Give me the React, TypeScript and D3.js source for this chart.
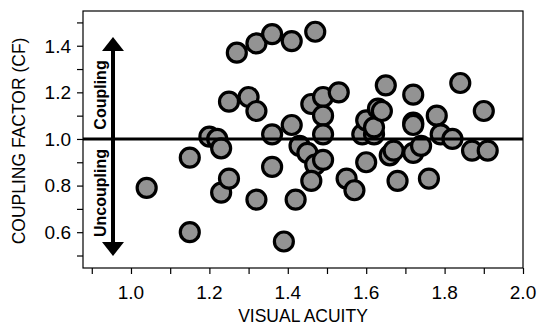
import * as d3 from "d3";
import { useEffect, useRef } from "react";

// visual acuity (x) and coupling factor (y) for each subject
const acuity = [
  1.04, 1.15, 1.15, 1.2, 1.22, 1.23, 1.23, 1.25, 1.25, 1.27, 1.3, 1.32, 1.32,
  1.32, 1.36, 1.36, 1.36, 1.39, 1.41, 1.41, 1.42, 1.43, 1.45, 1.46, 1.47, 1.47,
  1.46, 1.49, 1.49, 1.49, 1.49, 1.53, 1.55, 1.57, 1.59, 1.6, 1.6, 1.62, 1.62,
  1.63, 1.64, 1.65, 1.66, 1.67, 1.68, 1.72, 1.72, 1.72, 1.72, 1.74, 1.76, 1.78,
  1.79, 1.82, 1.84, 1.87, 1.9, 1.91,
];
const couplingFactor = [
  0.79, 0.92, 0.6, 1.01, 1.0, 0.96, 0.77, 0.83, 1.16, 1.37, 1.18, 1.41, 1.12,
  0.74, 1.45, 1.02, 0.88, 0.56, 1.42, 1.06, 0.74, 0.97, 0.94, 1.15, 1.46, 0.89,
  0.82, 1.18, 1.1, 1.02, 0.91, 1.2, 0.83, 0.78, 1.02, 1.08, 0.9, 1.02, 1.05,
  1.13, 1.12, 1.23, 0.93, 0.95, 0.82, 1.19, 1.07, 1.06, 0.94, 0.97, 0.83, 1.1,
  1.02, 1.0, 1.24, 0.95, 1.12, 0.95,
];

const xTicks = [0.9, 1.0, 1.1, 1.2, 1.3, 1.4, 1.5, 1.6, 1.7, 1.8, 1.9, 2.0];
const xLabels = [1.0, 1.2, 1.4, 1.6, 1.8, 2.0];
const yTicks = [0.5, 0.6, 0.7, 0.8, 0.9, 1.0, 1.1, 1.2, 1.3, 1.4, 1.5];
const yLabels = [0.6, 0.8, 1.0, 1.2, 1.4];

const font = "'Liberation Sans', Arial, Helvetica, sans-serif";

export default function App() {
  const svgRef = useRef(null);
  const width = 538;
  const height = 327;
  const margin = { top: 11, right: 15, bottom: 59, left: 83 };

  useEffect(() => {
    const root = d3.select(svgRef.current);
    root.selectAll("*").remove();

    const x = d3.scaleLinear().domain([0.8776, 2.0]).range([margin.left, width - margin.right]);
    const y = d3.scaleLinear().domain([0.4464, 1.549]).range([height - margin.bottom, margin.top]);

    const svg = root.append("g");

    // frame
    svg
      .append("rect")
      .attr("x", margin.left)
      .attr("y", margin.top)
      .attr("width", width - margin.left - margin.right)
      .attr("height", height - margin.top - margin.bottom)
      .attr("fill", "none")
      .attr("stroke", "#000")
      .attr("stroke-width", 1.2);

    const xAxis = svg
      .append("g")
      .attr("transform", `translate(0,${height - margin.bottom})`)
      .call(d3.axisBottom(x).tickValues(xTicks).tickSize(6).tickFormat(() => ""));
    xAxis.select(".domain").remove();
    xAxis.selectAll("line").attr("stroke-width", 1.2);

    const yAxis = svg
      .append("g")
      .attr("transform", `translate(${margin.left},0)`)
      .call(d3.axisLeft(y).tickValues(yTicks).tickSize(6).tickFormat(() => ""));
    yAxis.select(".domain").remove();
    yAxis.selectAll("line").attr("stroke-width", 1.2);

    svg
      .selectAll(".xlab")
      .data(xLabels)
      .enter()
      .append("text")
      .attr("x", (d) => x(d))
      .attr("y", 299)
      .attr("text-anchor", "middle")
      .attr("font-family", font)
      .attr("font-size", 19)
      .text((d) => d.toFixed(1));

    svg
      .selectAll(".ylab")
      .data(yLabels)
      .enter()
      .append("text")
      .attr("x", 71)
      .attr("y", (d) => y(d))
      .attr("dy", "0.36em")
      .attr("text-anchor", "end")
      .attr("font-family", font)
      .attr("font-size", 19)
      .text((d) => d.toFixed(1));

    svg
      .append("text")
      .attr("x", (margin.left + width - margin.right) / 2)
      .attr("y", 322)
      .attr("text-anchor", "middle")
      .attr("font-family", font)
      .attr("font-size", 17.5)
      .text("VISUAL ACUITY");

    svg
      .append("text")
      .attr("transform", `translate(25,${y(1.0) + 2}) rotate(-90)`)
      .attr("text-anchor", "middle")
      .attr("font-family", font)
      .attr("font-size", 17.5)
      .text("COUPLING FACTOR (CF)");

    // double arrow with labels
    const ax = 113;
    svg
      .append("line")
      .attr("x1", ax)
      .attr("x2", ax)
      .attr("y1", 48)
      .attr("y2", 245)
      .attr("stroke", "#000")
      .attr("stroke-width", 4);
    svg
      .append("path")
      .attr("d", `M${ax},37 L${ax - 11},51 L${ax + 11},51 Z`)
      .attr("fill", "#000");
    svg
      .append("path")
      .attr("d", `M${ax},256 L${ax - 11},242 L${ax + 11},242 Z`)
      .attr("fill", "#000");

    svg
      .append("text")
      .attr("transform", `translate(106,95) rotate(-90)`)
      .attr("text-anchor", "middle")
      .attr("font-family", font)
      .attr("font-weight", "bold")
      .attr("font-size", 16)
      .text("Coupling");
    svg
      .append("text")
      .attr("transform", `translate(106,193) rotate(-90)`)
      .attr("text-anchor", "middle")
      .attr("font-family", font)
      .attr("font-weight", "bold")
      .attr("font-size", 16)
      .text("Uncoupling");

    const pts = acuity.map((a, i) => ({ a, cf: couplingFactor[i] }));
    svg
      .selectAll(".pt")
      .data(pts)
      .enter()
      .append("circle")
      .attr("class", "pt")
      .attr("cx", (d) => x(d.a))
      .attr("cy", (d) => y(d.cf))
      .attr("r", 9.5)
      .attr("fill", "#939393")
      .attr("stroke", "#000")
      .attr("stroke-width", 3.2);

    // reference line at CF = 1
    svg
      .append("line")
      .attr("x1", margin.left)
      .attr("x2", width - margin.right)
      .attr("y1", y(1.0))
      .attr("y2", y(1.0))
      .attr("stroke", "#000")
      .attr("stroke-width", 3);
  }, []);

  return (
    <svg
      ref={svgRef}
      width={width}
      height={height}
      style={{ position: "absolute", left: 0, top: 0, background: "#fff" }}
    ></svg>
  );
}
